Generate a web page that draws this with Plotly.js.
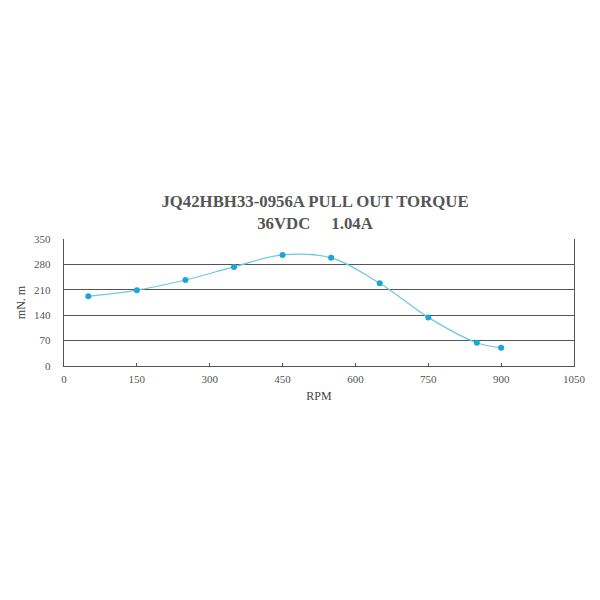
<!DOCTYPE html>
<html><head><meta charset="utf-8">
<script src="https://cdn.plot.ly/plotly-3.0.1.min.js"></script>
<style>html,body{margin:0;padding:0;background:#fff;}#chart{width:600px;height:600px;}</style>
</head><body><div id="chart"></div>
<script>
const rpm = [50, 150, 250, 350, 450, 550, 650, 750, 850, 900];
const torque = [192, 209, 237, 273, 306, 298, 228, 134, 64, 50];
const xTicks = [0, 150, 300, 450, 600, 750, 900, 1050];
const yTicks = [0, 70, 140, 210, 280, 350];
const titleLines = ["JQ42HBH33-0956A PULL OUT TORQUE", "36VDC&nbsp;&nbsp;&nbsp;&nbsp;&nbsp;1.04A"];

const trace = {
  x: rpm, y: torque, type: 'scatter', mode: 'lines+markers',
  line: {shape: 'spline', smoothing: 1, color: '#6cc9e6', width: 1.2},
  marker: {color: '#1ea5d8', size: 6},
  hoverinfo: 'skip'
};
const layout = {
  width: 600, height: 600,
  paper_bgcolor: '#fff', plot_bgcolor: '#fff',
  margin: {l: 64, r: 26, t: 239, b: 234},
  showlegend: false,
  title: {text: '<b>' + titleLines.join('<br>') + '</b>', x: 0.525, xanchor: 'center', y: 0.655, yanchor: 'middle',
    font: {family: 'Liberation Serif, serif', size: 16.8, color: '#555'}},
  xaxis: {range: [0, 1050], tickvals: xTicks, ticks: 'inside', ticklen: 3, tickcolor: '#555',
    showgrid: false, zeroline: false, showline: true, linecolor: '#555', linewidth: 1.3, mirror: false,
    ticklabelstandoff: 2,
    tickfont: {family: 'Liberation Serif, serif', size: 11, color: '#555'},
    title: {text: 'RPM', font: {family: 'Liberation Serif, serif', size: 12, color: '#444'}, standoff: 8}},
  yaxis: {range: [0, 350], tickvals: yTicks, ticks: '', showgrid: true, gridcolor: '#555', gridwidth: 1.3,
    zeroline: false, showline: true, linecolor: '#555', linewidth: 1.3, mirror: true,
    ticklabelstandoff: 10,
    tickfont: {family: 'Liberation Serif, serif', size: 11, color: '#555'},
    title: {text: 'mN. m', font: {family: 'Liberation Serif, serif', size: 12, color: '#444'}, standoff: 5}}
};
Plotly.newPlot('chart', [trace], layout, {displayModeBar: false, staticPlot: true});
</script></body></html>
